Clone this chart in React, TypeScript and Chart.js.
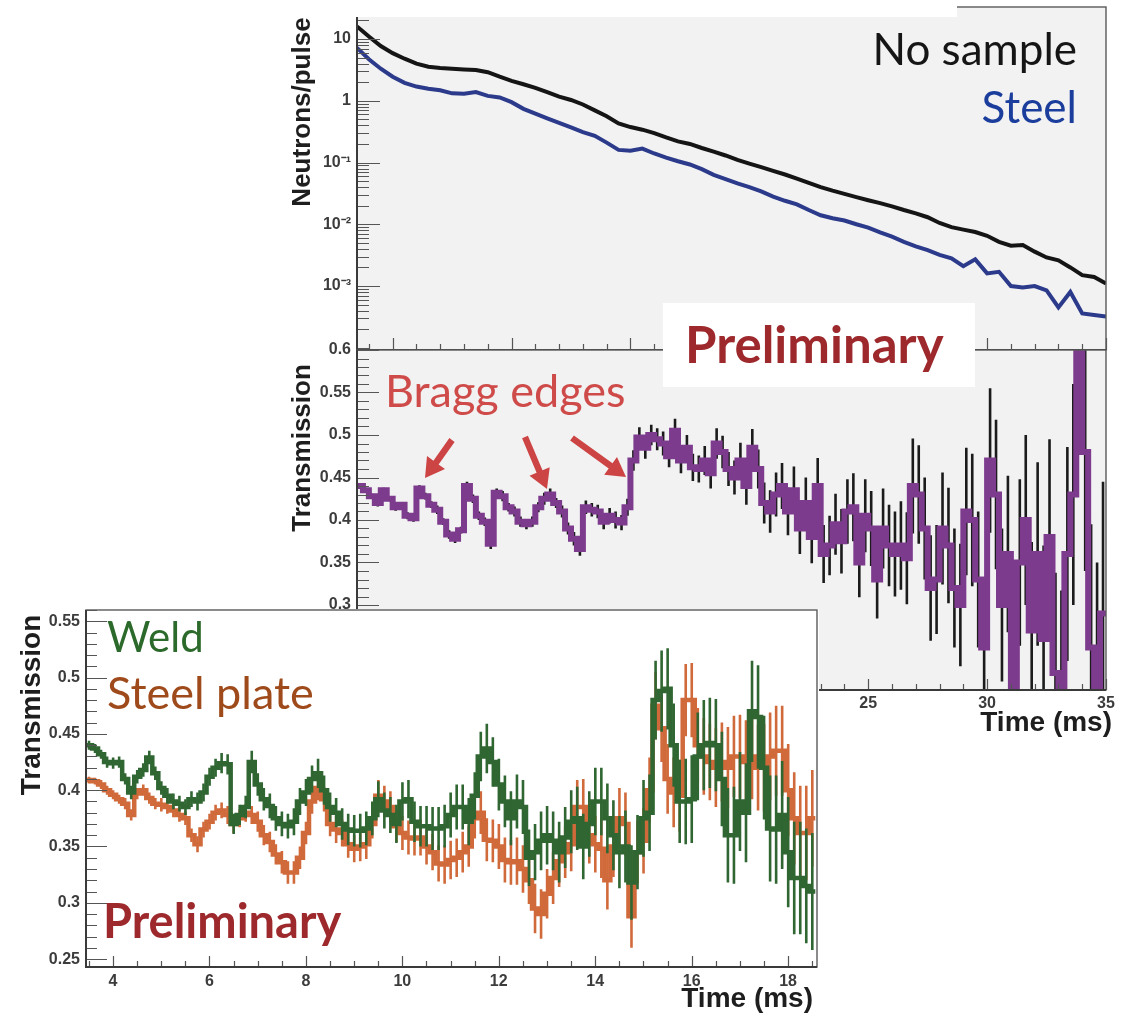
import React, { useEffect, useRef } from 'react';
import { Chart, registerables } from 'chart.js';

Chart.register(...registerables);

// ---------------- Neutron flux (neutrons / pulse), sampled every 0.5 ms ----------------
const FLUX_T0 = 3.5;
const FLUX_STEP = 0.5;
const NO_SAMPLE_FLUX = [
  16, 11, 7.7, 5.9, 4.8, 4.0, 3.55, 3.4, 3.3, 3.22,
  3.15, 2.9, 2.45, 2.1, 1.85, 1.62, 1.38, 1.17, 1.03, 0.87,
  0.7, 0.56, 0.43, 0.375, 0.34, 0.3, 0.255, 0.22, 0.2, 0.172,
  0.15, 0.13, 0.11, 0.096, 0.084, 0.073, 0.064, 0.055, 0.047, 0.04,
  0.035, 0.031, 0.0275, 0.0245, 0.022, 0.0195, 0.017, 0.015, 0.013, 0.0105,
  0.009, 0.0082, 0.0075, 0.0065, 0.0052, 0.0045, 0.0046, 0.0036, 0.0029, 0.0026,
  0.002, 0.0015, 0.0014, 0.0011,
];
const STEEL_FLUX = [
  7.2, 4.7, 3.3, 2.45, 1.95, 1.7, 1.57, 1.48, 1.32, 1.3,
  1.38, 1.2, 1.13, 0.95, 0.74, 0.62, 0.52, 0.44, 0.37, 0.31,
  0.27, 0.21, 0.16, 0.155, 0.168, 0.14, 0.12, 0.105, 0.093, 0.078,
  0.063, 0.054, 0.046, 0.04, 0.034, 0.028, 0.024, 0.021, 0.017, 0.014,
  0.0125, 0.0115, 0.01, 0.0088, 0.0074, 0.0063, 0.0052, 0.0044, 0.0038, 0.0032,
  0.0028, 0.0021, 0.0027, 0.0016, 0.0017, 0.001, 0.00095, 0.001, 0.00085, 0.00045,
  0.0008, 0.00036, 0.00034, 0.00032,
];

// ---------------- Steel transmission, 0.25 ms bins ----------------
const TRANS_T0 = 3.5;
const TRANS_BIN = 0.25;
const STEEL_TRANSMISSION = [
  0.44, 0.435, 0.428, 0.42, 0.435, 0.425, 0.415, 0.418, 0.405, 0.402,
  0.437, 0.428, 0.418, 0.412, 0.398, 0.383, 0.378, 0.388, 0.44, 0.425,
  0.405, 0.398, 0.372, 0.432, 0.428, 0.415, 0.41, 0.398, 0.395, 0.398,
  0.415, 0.425, 0.43, 0.42, 0.41, 0.39, 0.378, 0.366, 0.415, 0.412,
  0.41, 0.398, 0.405, 0.4, 0.397, 0.415, 0.47, 0.497, 0.485, 0.5,
  0.495, 0.49, 0.475, 0.505, 0.47, 0.485, 0.462, 0.46, 0.47, 0.455,
  0.49, 0.48, 0.46, 0.45, 0.47, 0.44, 0.485, 0.46, 0.42, 0.41,
  0.43, 0.44, 0.41, 0.435, 0.39, 0.42, 0.38, 0.44, 0.36, 0.37,
  0.395, 0.375, 0.41, 0.415, 0.35, 0.405, 0.39, 0.33, 0.39, 0.37,
  0.36, 0.37, 0.355, 0.44, 0.43, 0.39, 0.32, 0.33, 0.39, 0.37,
  0.32, 0.3, 0.41, 0.4, 0.33, 0.25, 0.47, 0.43, 0.3, 0.36,
  0.2, 0.35, 0.4, 0.27, 0.36, 0.26, 0.38, 0.22, 0.195, 0.36,
  0.43, 0.62, 0.48, 0.25, 0.2, 0.29,
];
const STEEL_TRANSMISSION_ERR = [
  0.003, 0.003, 0.003, 0.004, 0.003, 0.003, 0.004, 0.003, 0.004, 0.004,
  0.004, 0.004, 0.004, 0.005, 0.004, 0.005, 0.005, 0.004, 0.005, 0.005,
  0.005, 0.005, 0.006, 0.005, 0.006, 0.005, 0.006, 0.006, 0.006, 0.006,
  0.006, 0.007, 0.007, 0.006, 0.007, 0.007, 0.008, 0.008, 0.008, 0.008,
  0.008, 0.009, 0.009, 0.01, 0.009, 0.01, 0.012, 0.012, 0.013, 0.012,
  0.013, 0.014, 0.013, 0.014, 0.015, 0.015, 0.016, 0.016, 0.017, 0.018,
  0.018, 0.019, 0.02, 0.02, 0.021, 0.022, 0.022, 0.023, 0.024, 0.025,
  0.026, 0.027, 0.028, 0.028, 0.03, 0.03, 0.031, 0.033, 0.034, 0.035,
  0.036, 0.038, 0.038, 0.04, 0.041, 0.043, 0.044, 0.046, 0.047, 0.048,
  0.05, 0.052, 0.054, 0.056, 0.058, 0.06, 0.062, 0.064, 0.066, 0.068,
  0.07, 0.072, 0.075, 0.078, 0.08, 0.083, 0.085, 0.088, 0.09, 0.092,
  0.095, 0.098, 0.1, 0.104, 0.108, 0.11, 0.115, 0.118, 0.122, 0.126,
  0.13, 0.135, 0.14, 0.145, 0.15, 0.155,
];

// ---------------- Weld vs. steel plate transmission, 0.125 ms bins ----------------
const PLATE_T0 = 3.44;
const PLATE_BIN = 0.125;
const WELD_TRANSMISSION = [
  0.44, 0.437, 0.432, 0.425, 0.424, 0.425, 0.41, 0.398, 0.412, 0.418,
  0.429, 0.415, 0.402, 0.395, 0.39, 0.388, 0.385, 0.392, 0.39, 0.398,
  0.412, 0.42, 0.424, 0.423, 0.37, 0.378, 0.385, 0.425, 0.405, 0.392,
  0.386, 0.375, 0.37, 0.368, 0.372, 0.39, 0.398, 0.41, 0.415, 0.4,
  0.385, 0.38, 0.37, 0.365, 0.364, 0.364, 0.366, 0.375, 0.392, 0.382,
  0.378, 0.37, 0.39, 0.392, 0.372, 0.368, 0.368, 0.366, 0.366, 0.368,
  0.378, 0.385, 0.385, 0.372, 0.395, 0.43, 0.437, 0.425, 0.405, 0.39,
  0.375, 0.39, 0.385, 0.34, 0.345, 0.355, 0.36, 0.355, 0.345, 0.358,
  0.372, 0.375, 0.35, 0.37, 0.39, 0.39, 0.375, 0.36, 0.345, 0.35,
  0.318, 0.345, 0.375, 0.38, 0.48, 0.488, 0.49, 0.44, 0.39, 0.39,
  0.392, 0.43, 0.44, 0.442, 0.44, 0.41, 0.36, 0.36, 0.39, 0.38,
  0.47, 0.465, 0.42, 0.366, 0.365, 0.378, 0.345, 0.322, 0.322, 0.315,
  0.31,
];
const WELD_ERR = [
  0.004, 0.004, 0.004, 0.005, 0.005, 0.005, 0.005, 0.006, 0.006, 0.006,
  0.006, 0.006, 0.006, 0.007, 0.007, 0.007, 0.007, 0.007, 0.008, 0.008,
  0.008, 0.008, 0.009, 0.009, 0.009, 0.009, 0.01, 0.01, 0.01, 0.01,
  0.011, 0.011, 0.011, 0.011, 0.012, 0.012, 0.012, 0.012, 0.013, 0.013,
  0.013, 0.013, 0.014, 0.014, 0.014, 0.015, 0.015, 0.015, 0.016, 0.016,
  0.016, 0.017, 0.017, 0.017, 0.018, 0.018, 0.018, 0.019, 0.019, 0.019,
  0.02, 0.02, 0.02, 0.021, 0.021, 0.022, 0.022, 0.022, 0.023, 0.023,
  0.024, 0.024, 0.024, 0.025, 0.025, 0.026, 0.026, 0.026, 0.027, 0.027,
  0.028, 0.028, 0.029, 0.029, 0.03, 0.03, 0.031, 0.031, 0.032, 0.032,
  0.033, 0.033, 0.034, 0.034, 0.035, 0.036, 0.036, 0.037, 0.037, 0.038,
  0.039, 0.039, 0.04, 0.04, 0.041, 0.042, 0.042, 0.043, 0.044, 0.044,
  0.045, 0.046, 0.046, 0.047, 0.048, 0.048, 0.049, 0.05, 0.05, 0.051,
  0.052,
];
const PLATE_TRANSMISSION = [
  0.409, 0.408, 0.405, 0.4, 0.396, 0.392, 0.388, 0.378, 0.397, 0.4,
  0.393, 0.388, 0.387, 0.385, 0.382, 0.378, 0.375, 0.36, 0.352, 0.365,
  0.372, 0.38, 0.382, 0.378, 0.37, 0.375, 0.38, 0.378, 0.372, 0.36,
  0.354, 0.343, 0.336, 0.327, 0.327, 0.34, 0.362, 0.39, 0.402, 0.392,
  0.37, 0.365, 0.362, 0.352, 0.348, 0.35, 0.352, 0.37, 0.395, 0.39,
  0.385, 0.368, 0.362, 0.358, 0.357, 0.358, 0.35, 0.345, 0.335, 0.334,
  0.338, 0.34, 0.345, 0.35, 0.375, 0.38, 0.356, 0.355, 0.35, 0.338,
  0.336, 0.337, 0.33, 0.32, 0.295, 0.29, 0.308, 0.322, 0.337, 0.345,
  0.352, 0.385, 0.385, 0.36, 0.352, 0.348, 0.32, 0.35, 0.375, 0.37,
  0.288, 0.345, 0.355, 0.4, 0.475, 0.455, 0.41, 0.398, 0.395, 0.48,
  0.48, 0.44, 0.43, 0.425, 0.42, 0.425, 0.42, 0.43, 0.43, 0.425,
  0.43, 0.42, 0.42, 0.43, 0.435, 0.435, 0.4, 0.375, 0.362, 0.362,
  0.375,
];
const PLATE_ERR = [
  0.003, 0.003, 0.004, 0.004, 0.004, 0.004, 0.005, 0.005, 0.005, 0.005,
  0.005, 0.005, 0.006, 0.006, 0.006, 0.006, 0.006, 0.006, 0.007, 0.007,
  0.007, 0.007, 0.007, 0.008, 0.008, 0.008, 0.008, 0.008, 0.009, 0.009,
  0.009, 0.009, 0.01, 0.01, 0.01, 0.01, 0.01, 0.011, 0.011, 0.011,
  0.011, 0.012, 0.012, 0.012, 0.012, 0.013, 0.013, 0.013, 0.014, 0.014,
  0.014, 0.014, 0.015, 0.015, 0.015, 0.016, 0.016, 0.016, 0.016, 0.017,
  0.017, 0.017, 0.018, 0.018, 0.018, 0.019, 0.019, 0.019, 0.02, 0.02,
  0.02, 0.021, 0.021, 0.021, 0.022, 0.022, 0.022, 0.023, 0.023, 0.023,
  0.024, 0.024, 0.025, 0.025, 0.025, 0.026, 0.026, 0.027, 0.027, 0.028,
  0.028, 0.028, 0.029, 0.029, 0.03, 0.03, 0.031, 0.031, 0.032, 0.032,
  0.033, 0.033, 0.034, 0.034, 0.035, 0.035, 0.036, 0.036, 0.037, 0.037,
  0.038, 0.038, 0.039, 0.039, 0.04, 0.04, 0.041, 0.041, 0.042, 0.042,
  0.043,
];

// ---------------- Axis ticks ----------------
const TIME_TICKS = [5, 10, 15, 20, 25, 30, 35];
const FLUX_DECADES = [0.001, 0.01, 0.1, 1, 10];
const FLUX_TICK_LABELS = ['10⁻³', '10⁻²', '10⁻¹', '1', '10'];
const TRANS_TICKS = [0.2, 0.25, 0.3, 0.35, 0.4, 0.45, 0.5, 0.55, 0.6];
const PLATE_TIME_TICKS = [4, 6, 8, 10, 12, 14, 16, 18];
const PLATE_TRANS_TICKS = [0.25, 0.3, 0.35, 0.4, 0.45, 0.5, 0.55];

// ---------------- Styling ----------------
const AXIS_FONT = '"Liberation Sans", Arial, Helvetica, sans-serif';
const NOTE_FONT = 'Lato, "Open Sans", sans-serif';
const PANEL_GRAY = '#f2f2f2';
const TICK_LABEL_COLOR = '#3c3c3c';
const COLOR_NO_SAMPLE = '#151515';
const COLOR_STEEL = '#2b3a8a';
const COLOR_PURPLE = '#7d3b8d';
const COLOR_WELD = '#2f6631';
const COLOR_PLATE = '#d16a3b';
const COLOR_PRELIM = '#9d292d';
const COLOR_BRAGG = '#cf4b49';

type Pt = { x: number; y: number };
type Bar = { x: number; lo: number; hi: number };

function histogramPoints(t0: number, bin: number, values: number[]): Pt[] {
  const pts = values.map((v, i) => ({ x: t0 + i * bin, y: v }));
  pts.push({ x: t0 + values.length * bin, y: values[values.length - 1] });
  return pts;
}

function errorBars(t0: number, bin: number, values: number[], errs: number[]): Bar[] {
  return values.map((v, i) => ({ x: t0 + (i + 0.5) * bin, lo: v - errs[i], hi: v + errs[i] }));
}

function samplePoints(t0: number, step: number, values: number[]): Pt[] {
  return values.map((v, i) => ({ x: t0 + i * step, y: v }));
}

type BarSet = { dataset: number; bars: Bar[]; color: string; width: number };

// Vertical error bars, drawn just under the dataset they belong to
function errorBarPlugin(sets: BarSet[]) {
  return {
    id: 'errorBars',
    beforeDatasetDraw(chart: any, args: any) {
      const { ctx, chartArea: a, scales } = chart;
      sets.filter((s) => s.dataset === args.index).forEach((s) => {
        ctx.save();
        ctx.beginPath();
        ctx.rect(a.left, a.top, a.right - a.left, a.bottom - a.top);
        ctx.clip();
        ctx.strokeStyle = s.color;
        ctx.lineWidth = s.width;
        ctx.lineCap = 'butt';
        ctx.beginPath();
        s.bars.forEach((b) => {
          const px = scales.x.getPixelForValue(b.x);
          ctx.moveTo(px, scales.y.getPixelForValue(b.lo));
          ctx.lineTo(px, scales.y.getPixelForValue(b.hi));
        });
        ctx.stroke();
        ctx.restore();
      });
    },
  };
}

type FrameOpts = {
  bg: string;
  xMajor: number[];
  xMinorStep: number;
  yMajor: number[];
  yMinorStep: number | null; // null: logarithmic sub-divisions
  xLen: [number, number];
  yLen: [number, number];
};

// Panel background, box frame and inward-pointing axis ticks
function framePlugin(o: FrameOpts) {
  const isMajor = (v: number, list: number[]) =>
    list.some((m) => Math.abs(m - v) <= 1e-6 * Math.max(1e-9, Math.abs(m)) + 1e-12);
  return {
    id: 'panelFrame',
    beforeDraw(chart: any) {
      const { ctx, chartArea: a } = chart;
      ctx.save();
      ctx.fillStyle = o.bg;
      ctx.fillRect(a.left, a.top, a.right - a.left, a.bottom - a.top);
      ctx.restore();
    },
    afterDraw(chart: any) {
      const { ctx, chartArea: a } = chart;
      const xs = chart.scales.x;
      const ys = chart.scales.y;
      ctx.save();
      ctx.strokeStyle = '#555';
      ctx.lineWidth = 1.2;
      ctx.beginPath();
      // x axis ticks (bottom edge, pointing up)
      for (let k = Math.ceil(xs.min / o.xMinorStep - 1e-9); k * o.xMinorStep <= xs.max + 1e-9; k++) {
        const v = k * o.xMinorStep;
        const len = isMajor(v, o.xMajor) ? o.xLen[0] : o.xLen[1];
        const px = Math.round(xs.getPixelForValue(v)) + 0.5;
        ctx.moveTo(px, a.bottom);
        ctx.lineTo(px, a.bottom - len);
      }
      // y axis ticks (left edge, pointing right)
      const yVals: number[] = [];
      if (o.yMinorStep === null) {
        const d0 = Math.floor(Math.log10(ys.min));
        const d1 = Math.ceil(Math.log10(ys.max));
        for (let d = d0; d <= d1; d++) {
          for (let m = 1; m <= 9; m++) {
            const v = m * Math.pow(10, d);
            if (v >= ys.min && v <= ys.max) yVals.push(v);
          }
        }
      } else {
        for (let k = Math.ceil(ys.min / o.yMinorStep - 1e-9); k * o.yMinorStep <= ys.max + 1e-9; k++) {
          yVals.push(k * o.yMinorStep);
        }
      }
      yVals.forEach((v) => {
        const len = isMajor(v, o.yMajor) ? o.yLen[0] : o.yLen[1];
        const py = Math.round(ys.getPixelForValue(v)) + 0.5;
        ctx.moveTo(a.left, py);
        ctx.lineTo(a.left + len, py);
      });
      ctx.stroke();
      // box frame
      ctx.strokeStyle = '#5a5a5a';
      ctx.lineWidth = 1.4;
      ctx.strokeRect(a.left, a.top, a.right - a.left, a.bottom - a.top);
      ctx.strokeStyle = '#3a3a3a';
      ctx.lineWidth = 2;
      ctx.beginPath();
      ctx.moveTo(a.left, a.top);
      ctx.lineTo(a.left, a.bottom);
      ctx.lineTo(a.right, a.bottom);
      ctx.stroke();
      ctx.restore();
    },
  };
}

const tickFont = { family: AXIS_FONT, weight: 'bold' as const, size: 16 };
const noPad = (s: any) => {
  s.paddingTop = 0;
  s.paddingBottom = 0;
  s.paddingLeft = 0;
  s.paddingRight = 0;
};
const fmt = (v: number) => String(Number(v.toFixed(3)));

function fluxConfig(): any {
  return {
    type: 'line',
    data: {
      datasets: [
        { data: samplePoints(FLUX_T0, FLUX_STEP, NO_SAMPLE_FLUX), borderColor: COLOR_NO_SAMPLE, borderWidth: 4, pointRadius: 0, tension: 0, clip: 0 },
        { data: samplePoints(FLUX_T0, FLUX_STEP, STEEL_FLUX), borderColor: COLOR_STEEL, borderWidth: 4, pointRadius: 0, tension: 0, clip: 0 },
      ],
    },
    options: {
      animation: false,
      responsive: false,
      maintainAspectRatio: false,
      layout: { padding: { top: 7, right: 20, bottom: 2, left: 0 } },
      plugins: { legend: { display: false }, tooltip: { enabled: false } },
      scales: {
        x: { type: 'linear', min: 3.5, max: 35, display: false },
        y: {
          type: 'logarithmic',
          min: 9.2e-5,
          max: 33,
          afterBuildTicks: (s: any) => { s.ticks = FLUX_DECADES.map((v) => ({ value: v })); },
          afterFit: (s: any) => { s.width = 87; noPad(s); },
          grid: { display: false, drawTicks: false },
          border: { display: false },
          ticks: { font: tickFont, color: TICK_LABEL_COLOR, padding: 6, autoSkip: false, callback: (_v: number, i: number) => FLUX_TICK_LABELS[i] },
        },
      },
    },
    plugins: [
      framePlugin({ bg: PANEL_GRAY, xMajor: TIME_TICKS, xMinorStep: 1, yMajor: FLUX_DECADES, yMinorStep: null, xLen: [12, 6], yLen: [23, 12] }),
    ],
  };
}

function transmissionConfig(): any {
  return {
    type: 'line',
    data: {
      datasets: [
        { data: histogramPoints(TRANS_T0, TRANS_BIN, STEEL_TRANSMISSION), borderColor: COLOR_PURPLE, borderWidth: 6, pointRadius: 0, stepped: true, clip: 0 },
      ],
    },
    options: {
      animation: false,
      responsive: false,
      maintainAspectRatio: false,
      layout: { padding: { top: 20, right: 20, bottom: 0, left: 0 } },
      plugins: { legend: { display: false }, tooltip: { enabled: false } },
      scales: {
        x: {
          type: 'linear',
          min: 3.5,
          max: 35,
          afterBuildTicks: (s: any) => { s.ticks = TIME_TICKS.map((v) => ({ value: v })); },
          afterFit: (s: any) => { s.height = 30; noPad(s); },
          grid: { display: false, drawTicks: false },
          border: { display: false },
          ticks: { font: tickFont, color: TICK_LABEL_COLOR, padding: 4, autoSkip: false, maxRotation: 0, callback: (v: number) => fmt(v) },
        },
        y: {
          type: 'linear',
          min: 0.2,
          max: 0.6,
          afterBuildTicks: (s: any) => { s.ticks = TRANS_TICKS.map((v) => ({ value: v })); },
          afterFit: (s: any) => { s.width = 87; noPad(s); },
          grid: { display: false, drawTicks: false },
          border: { display: false },
          ticks: { font: tickFont, color: TICK_LABEL_COLOR, padding: 6, autoSkip: false, callback: (v: number) => fmt(v) },
        },
      },
    },
    plugins: [
      framePlugin({ bg: PANEL_GRAY, xMajor: TIME_TICKS, xMinorStep: 1, yMajor: TRANS_TICKS, yMinorStep: 0.01, xLen: [11, 6], yLen: [22, 12] }),
      errorBarPlugin([
        { dataset: 0, bars: errorBars(TRANS_T0, TRANS_BIN, STEEL_TRANSMISSION, STEEL_TRANSMISSION_ERR), color: '#1b1b1b', width: 2.6 },
      ]),
    ],
  };
}

function plateConfig(): any {
  return {
    type: 'line',
    data: {
      datasets: [
        { data: histogramPoints(PLATE_T0, PLATE_BIN, WELD_TRANSMISSION), borderColor: COLOR_WELD, borderWidth: 4.5, pointRadius: 0, stepped: true, clip: 0 },
        { data: histogramPoints(PLATE_T0, PLATE_BIN, PLATE_TRANSMISSION), borderColor: COLOR_PLATE, borderWidth: 4.5, pointRadius: 0, stepped: true, clip: 0 },
      ],
    },
    options: {
      animation: false,
      responsive: false,
      maintainAspectRatio: false,
      layout: { padding: { top: 1, right: 2, bottom: 0, left: 0 } },
      plugins: { legend: { display: false }, tooltip: { enabled: false } },
      scales: {
        x: {
          type: 'linear',
          min: 3.44,
          max: 18.6,
          afterBuildTicks: (s: any) => { s.ticks = PLATE_TIME_TICKS.map((v) => ({ value: v })); },
          afterFit: (s: any) => { s.height = 49; noPad(s); },
          grid: { display: false, drawTicks: false },
          border: { display: false },
          ticks: { font: tickFont, color: TICK_LABEL_COLOR, padding: 5, autoSkip: false, maxRotation: 0, callback: (v: number) => fmt(v) },
        },
        y: {
          type: 'linear',
          min: 0.243,
          max: 0.56,
          afterBuildTicks: (s: any) => { s.ticks = PLATE_TRANS_TICKS.map((v) => ({ value: v })); },
          afterFit: (s: any) => { s.width = 86; noPad(s); },
          grid: { display: false, drawTicks: false },
          border: { display: false },
          ticks: { font: tickFont, color: TICK_LABEL_COLOR, padding: 6, autoSkip: false, callback: (v: number) => fmt(v) },
        },
      },
    },
    plugins: [
      framePlugin({ bg: '#ffffff', xMajor: PLATE_TIME_TICKS, xMinorStep: 0.5, yMajor: PLATE_TRANS_TICKS, yMinorStep: 0.01, xLen: [11, 6], yLen: [21, 11] }),
      errorBarPlugin([
        { dataset: 0, bars: errorBars(PLATE_T0, PLATE_BIN, WELD_TRANSMISSION, WELD_ERR), color: COLOR_WELD, width: 2.6 },
        { dataset: 1, bars: errorBars(PLATE_T0, PLATE_BIN, PLATE_TRANSMISSION, PLATE_ERR), color: COLOR_PLATE, width: 2.6 },
      ]),
    ],
  };
}

// Annotation arrows: [tailX, tailY, tipX, tipY] in page pixels
const BRAGG_ARROWS: [number, number, number, number][] = [
  [452, 440, 425, 478],
  [525, 437, 547, 489],
  [572, 438, 626, 477],
];

function arrowPolygon([x1, y1, x2, y2]: [number, number, number, number]) {
  const dx = x2 - x1;
  const dy = y2 - y1;
  const len = Math.hypot(dx, dy);
  const ux = dx / len;
  const uy = dy / len;
  const nx = -uy;
  const ny = ux;
  const shaft = 3.2;
  const head = 11;
  const headLen = 19;
  const bx = x2 - ux * headLen;
  const by = y2 - uy * headLen;
  const p = [
    [x1 + nx * shaft, y1 + ny * shaft],
    [bx + nx * shaft, by + ny * shaft],
    [bx + nx * head, by + ny * head],
    [x2, y2],
    [bx - nx * head, by - ny * head],
    [bx - nx * shaft, by - ny * shaft],
    [x1 - nx * shaft, y1 - ny * shaft],
  ];
  return p.map((q) => q.map((c) => c.toFixed(1)).join(',')).join(' ');
}

export default function App() {
  const fluxRef = useRef<HTMLCanvasElement>(null);
  const transRef = useRef<HTMLCanvasElement>(null);
  const plateRef = useRef<HTMLCanvasElement>(null);

  useEffect(() => {
    const charts = [
      new Chart(fluxRef.current as HTMLCanvasElement, fluxConfig()),
      new Chart(transRef.current as HTMLCanvasElement, transmissionConfig()),
      new Chart(plateRef.current as HTMLCanvasElement, plateConfig()),
    ];
    return () => charts.forEach((c) => c.destroy());
  }, []);

  const axisTitle = { fontFamily: AXIS_FONT, fontWeight: 'bold' as const, fill: '#1e1e1e' };

  return (
    <div style={{ position: 'absolute', left: 0, top: 0, width: 1126, height: 1016, background: '#fff', overflow: 'hidden' }}>
      <canvas ref={fluxRef} width={856} height={352} style={{ position: 'absolute', left: 270, top: 0 }} />
      <canvas ref={transRef} width={856} height={390} style={{ position: 'absolute', left: 270, top: 330 }} />
      <canvas ref={plateRef} width={819} height={407} style={{ position: 'absolute', left: 0, top: 609, background: '#fff' }} />
      <svg width={1126} height={1016} style={{ position: 'absolute', left: 0, top: 0, pointerEvents: 'none' }}>
        <rect x={350} y={0} width={607} height={17} fill="#fff" />

        <text transform="translate(310,112) rotate(-90)" textAnchor="middle" fontSize={26} {...axisTitle}>Neutrons/pulse</text>
        <text transform="translate(310,448) rotate(-90)" textAnchor="middle" fontSize={26} {...axisTitle}>Transmission</text>
        <text transform="translate(40,705) rotate(-90)" textAnchor="middle" fontSize={28} {...axisTitle}>Transmission</text>
        <text x={1112} y={731} textAnchor="end" fontSize={28} {...axisTitle}>Time (ms)</text>
        <text x={813} y={1007} textAnchor="end" fontSize={28} {...axisTitle}>Time (ms)</text>

        <text x={1077} y={65} textAnchor="end" fontFamily={NOTE_FONT} fontSize={44} fill={COLOR_NO_SAMPLE}>No sample</text>
        <text x={1077} y={123} textAnchor="end" fontFamily={NOTE_FONT} fontSize={44} fill="#1b3e9c">Steel</text>

        <rect x={663} y={303} width={312} height={84} fill="#fff" />
        <text x={685} y={363} fontFamily={NOTE_FONT} fontWeight="bold" fontSize={51} fill={COLOR_PRELIM}>Preliminary</text>

        <text x={385} y={407} fontFamily={NOTE_FONT} fontSize={45} fill={COLOR_BRAGG}>Bragg edges</text>
        {BRAGG_ARROWS.map((a, i) => (
          <polygon key={i} points={arrowPolygon(a)} fill="#cc4443" />
        ))}

        <text x={107} y={652} fontFamily={NOTE_FONT} fontSize={42} fill="#2c6a2c">Weld</text>
        <text x={107} y={709} fontFamily={NOTE_FONT} fontSize={45} fill="#9e4a1b">Steel plate</text>
        <text x={103} y={938} fontFamily={NOTE_FONT} fontWeight="bold" fontSize={47} fill={COLOR_PRELIM}>Preliminary</text>
      </svg>
    </div>
  );
}
